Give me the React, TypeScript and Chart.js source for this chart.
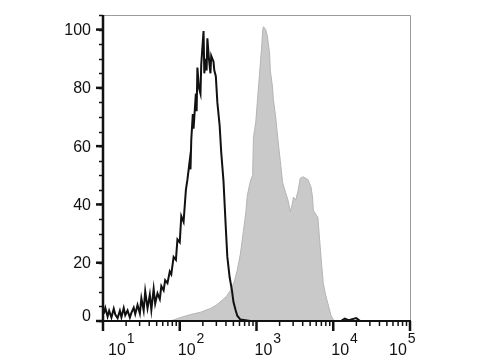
import React, { useEffect, useRef } from "react";
import { Chart, registerables } from "chart.js";

Chart.register(...registerables);

// log10 of fluorescence intensity (x) and % of max count (y)
const controlLog = [1.01,1.03,1.06,1.08,1.11,1.14,1.16,1.19,1.22,1.24,1.27,1.29,1.32,1.35,1.37,1.40,1.42,1.45,1.48,1.50,1.53,1.55,1.58,1.61,1.63,1.66,1.68,1.71,1.74,1.76,1.79,1.81,1.84,1.87,1.89,1.92,1.95,1.97,2.00,2.02,2.05,2.08,2.10,2.13,2.14,2.15,2.17,2.18,2.21,2.22,2.23,2.25,2.27,2.28,2.31,2.32,2.34,2.35,2.36,2.38,2.40,2.41,2.44,2.45,2.47,2.49,2.52,2.54,2.57,2.60,2.62,2.65,2.68,2.70,2.73,2.75,2.79,2.92,3.50,4.10,4.15,4.20,4.30,4.35,5.00];
const controlCount = [2.5,4.5,1.5,3.5,1.2,4.2,2.2,1.0,3.5,1.3,4.5,2.0,3.6,1.2,2.8,4.6,2.4,5.5,2.6,7.8,3.6,10.2,4.4,9.0,3.8,11.0,6.0,9.5,7.5,12.0,10.5,14.0,13.0,17.0,16.0,22.0,21.0,28.0,27.0,36.0,34.0,45.0,48.5,55.0,52.0,62.0,71.0,66.0,78.0,72.0,87.0,80.0,78.0,88.0,99.5,85.0,90.0,86.0,97.0,90.0,85.0,91.0,89.0,86.0,84.0,75.0,67.0,58.0,48.0,32.0,22.0,15.0,10.5,6.5,3.5,1.8,0.5,0,0,0,0.8,0.3,1.0,0,0];

const stainedLog = [1.88,2.01,2.14,2.27,2.40,2.48,2.56,2.61,2.66,2.71,2.75,2.79,2.83,2.86,2.88,2.92,2.95,2.96,2.99,3.01,3.04,3.07,3.08,3.09,3.12,3.14,3.17,3.18,3.21,3.22,3.25,3.28,3.31,3.34,3.38,3.41,3.44,3.47,3.48,3.51,3.54,3.57,3.61,3.67,3.71,3.73,3.74,3.80,3.84,3.87,3.90,3.93,3.97,4.01];
const stainedCount = [0,1.2,2.2,3.0,4.3,5.5,7.3,8.5,10.5,13.5,17.5,23,31,37,43,48,50,63,68,75,85,95,99.5,101,100,98,92,86,80,76,70,62,55,47.5,44,41.5,37.5,40.5,42.5,41.5,44.5,49,49.5,48.5,46,42.5,38,35.5,22,13,9,6,2,0];

const yTicks = [0, 20, 40, 60, 80, 100];
const yMinorStep = 5;
const xDecades = [1, 2, 3, 4, 5];
const xBase = "10";
const xExponents = ["1", "2", "3", "4", "5"];

const FONT = "'Liberation Sans Narrow', 'Liberation Sans', Arial, sans-serif";

const axesPlugin = {
  id: "flowAxes",
  afterDraw(chart: any) {
    const ctx = chart.ctx;
    const { left, right, top, bottom } = chart.chartArea;
    const xs = chart.scales.x;
    const ys = chart.scales.y;
    ctx.save();
    // frame (top, right)
    ctx.strokeStyle = "#9a9a9a";
    ctx.lineWidth = 1;
    ctx.beginPath();
    ctx.moveTo(left, top + 0.5);
    ctx.lineTo(right + 0.5, top + 0.5);
    ctx.lineTo(right + 0.5, bottom);
    ctx.stroke();

    ctx.strokeStyle = "#111";
    ctx.fillStyle = "#111";
    // y axis line
    ctx.lineWidth = 2.5;
    ctx.beginPath();
    ctx.moveTo(left, top);
    ctx.lineTo(left, bottom + 1);
    ctx.stroke();
    // x axis line
    ctx.lineWidth = 2;
    ctx.beginPath();
    ctx.moveTo(left, bottom);
    ctx.lineTo(right + 1, bottom);
    ctx.stroke();

    // y minor ticks
    ctx.lineWidth = 1.5;
    for (let v = ys.min; v <= ys.max + 0.001; v += yMinorStep) {
      const y = Math.round(ys.getPixelForValue(v)) + 0.5;
      ctx.beginPath();
      ctx.moveTo(left - 4, y);
      ctx.lineTo(left, y);
      ctx.stroke();
    }
    // y major ticks + labels
    ctx.lineWidth = 2.5;
    ctx.font = `16px ${FONT}`;
    ctx.textAlign = "right";
    ctx.textBaseline = "middle";
    yTicks.forEach((v) => {
      const y = ys.getPixelForValue(v);
      ctx.beginPath();
      ctx.moveTo(left - 7, y);
      ctx.lineTo(left, y);
      ctx.stroke();
      ctx.fillText(String(v), left - 12, v === 0 ? y - 4 : y + 1);
    });

    // x ticks
    for (let d = 0; d < xDecades.length; d++) {
      const dec = xDecades[d];
      const px = xs.getPixelForValue(dec);
      ctx.lineWidth = 2.5;
      ctx.beginPath();
      ctx.moveTo(px, bottom);
      ctx.lineTo(px, bottom + 10);
      ctx.stroke();
      if (d < xDecades.length - 1) {
        ctx.lineWidth = 1.5;
        for (let m = 2; m <= 9; m++) {
          const mx = xs.getPixelForValue(dec + Math.log10(m));
          ctx.beginPath();
          ctx.moveTo(mx, bottom);
          ctx.lineTo(mx, bottom + 5);
          ctx.stroke();
        }
      }
    }
    // x labels
    ctx.textAlign = "left";
    ctx.textBaseline = "alphabetic";
    xDecades.forEach((dec, i) => {
      const px = xs.getPixelForValue(dec);
      let x0 = px - 2;
      if (i === 0) x0 = px + 5;
      if (i === xDecades.length - 1) x0 = px - 21;
      ctx.font = `16px ${FONT}`;
      ctx.fillText(xBase, x0, 355);
      const w = ctx.measureText(xBase).width;
      ctx.font = `14px ${FONT}`;
      ctx.fillText(xExponents[i], x0 + w + 1, 343);
    });
    ctx.restore();
  },
};

export default function App() {
  const ref = useRef<HTMLCanvasElement | null>(null);
  useEffect(() => {
    if (!ref.current) return;
    const chart = new Chart(ref.current, {
      type: "line",
      data: {
        datasets: [
          {
            label: "Control",
            data: controlLog.map((x, i) => ({ x, y: controlCount[i] })),
            borderColor: "#111111",
            borderWidth: 2,
            pointRadius: 0,
            fill: false,
            tension: 0,
            order: 0,
          },
          {
            label: "Stained",
            data: stainedLog.map((x, i) => ({ x, y: stainedCount[i] })),
            borderColor: "#b4b4b4",
            backgroundColor: "#c9c9c9",
            borderWidth: 1,
            pointRadius: 0,
            fill: "origin",
            tension: 0,
            order: 1,
          },
        ],
      },
      options: {
        responsive: false,
        animation: false,
        layout: { padding: { left: 103, right: 70, top: 15, bottom: 39 } },
        plugins: { legend: { display: false }, tooltip: { enabled: false } },
        scales: {
          x: { type: "linear", min: 1, max: 5, display: false },
          y: { type: "linear", min: 0, max: 105, display: false },
        },
      },
      plugins: [axesPlugin],
    });
    return () => chart.destroy();
  }, []);
  return (
    <div style={{ position: "fixed", left: 0, top: 0, width: 480, height: 360, background: "#fff" }}>
      <canvas ref={ref} width={480} height={360} />
    </div>
  );
}
